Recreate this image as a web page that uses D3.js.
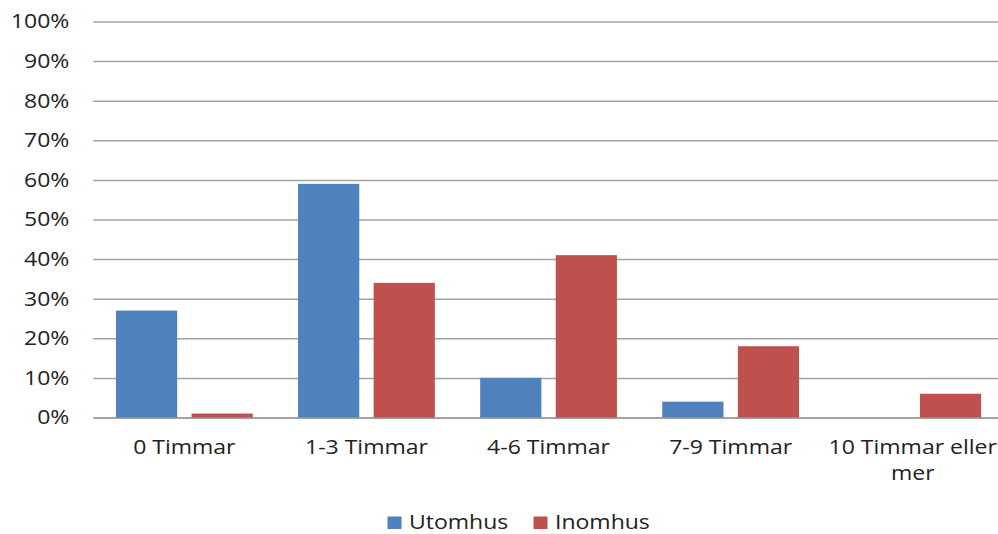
<!DOCTYPE html>
<html>
<head>
<meta charset="utf-8">
<script src="https://cdn.jsdelivr.net/npm/d3@7"></script>
<style>
  html, body { margin: 0; padding: 0; background: #fff; }
  svg { display: block; }
  text { font-family: "Open Sans", "Liberation Sans", sans-serif; fill: #222; }
</style>
</head>
<body>
<svg id="chart" width="998" height="534"></svg>
<script>
// Hours per day spent outdoors vs. indoors
const categories = ["0 Timmar", "1-3 Timmar", "4-6 Timmar", "7-9 Timmar", "10 Timmar eller mer"];
const seriesNames = ["Utomhus", "Inomhus"];
const utomhus = [27, 59, 10, 4, 0];
const inomhus = [1, 34, 41, 18, 6];
const yTicks = [0, 10, 20, 30, 40, 50, 60, 70, 80, 90, 100];
const colors = ["#4F81BD", "#C0504D"];

const FONT_SIZE = 20;
const WIDEN = 1.15; // text is drawn slightly widened horizontally

// Widen each text element by a fixed factor, keeping its anchor
function widen(sel) {
  sel.each(function () {
    const w = this.getComputedTextLength();
    d3.select(this).attr("textLength", w * WIDEN).attr("lengthAdjust", "spacingAndGlyphs");
  });
}

const svg = d3.select("#chart");
const plot = { left: 93.3, right: 1003.8, top: 21.5, bottom: 417.5 };

const x = d3.scaleBand().domain(categories).range([plot.left, plot.right]).paddingInner(0).paddingOuter(0);
const inner = d3.scaleBand().domain(seriesNames).range([0, x.bandwidth()]).paddingInner(0.19).paddingOuter(0.3);
const y = d3.scaleLinear().domain([0, 100]).range([plot.bottom, plot.top]);

// Gridlines and y-axis labels
const yAxis = d3.axisLeft(y).tickValues(yTicks).tickFormat(d => d + "%").tickSize(-(plot.right - plot.left)).tickPadding(24);
const gy = svg.append("g").attr("transform", `translate(${plot.left},0)`).call(yAxis);
gy.select(".domain").remove();
gy.selectAll(".tick line").attr("stroke", "#a3a3a3").attr("stroke-width", d => d === 0 ? 2 : 1.5);
gy.selectAll(".tick text").attr("font-size", FONT_SIZE).attr("fill", "#222")
  .attr("font-family", '"Open Sans", sans-serif').call(widen);

// Bars
const data = categories.map((c, i) => ({ c, vals: [utomhus[i], inomhus[i]] }));
const groups = svg.append("g").selectAll("g").data(data).join("g")
  .attr("transform", d => `translate(${x(d.c)},0)`);
groups.selectAll("rect").data(d => d.vals.map((v, j) => ({ v, s: seriesNames[j], j })))
  .join("rect")
  .attr("x", d => inner(d.s))
  .attr("width", inner.bandwidth())
  .attr("y", d => y(d.v))
  .attr("height", d => y(0) - y(d.v))
  .attr("fill", d => colors[d.j]);

// Category labels (wrapped when wider than the band)
const xLabels = [["0 Timmar"], ["1-3 Timmar"], ["4-6 Timmar"], ["7-9 Timmar"], ["10 Timmar eller", "mer"]];
const gx = svg.append("g");
categories.forEach((c, i) => {
  xLabels[i].forEach((line, k) => {
    gx.append("text")
      .attr("x", x(c) + x.bandwidth() / 2)
      .attr("y", 454 + k * 26)
      .attr("text-anchor", "middle")
      .attr("font-size", FONT_SIZE)
      .text(line);
  });
});
gx.selectAll("text").call(widen);

// Legend
const legendX = [387.5, 533.5];
const legend = svg.append("g");
seriesNames.forEach((s, i) => {
  legend.append("rect").attr("x", legendX[i]).attr("y", 516.5).attr("width", 14).attr("height", 12.5).attr("fill", colors[i]);
  legend.append("text").attr("x", legendX[i] + 21.5).attr("y", 529).attr("font-size", FONT_SIZE).text(s);
});
legend.selectAll("text").call(widen);
</script>
</body>
</html>
